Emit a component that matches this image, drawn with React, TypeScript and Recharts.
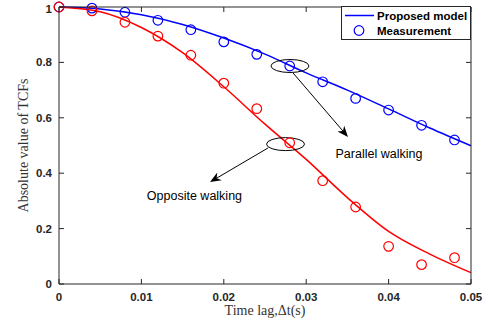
import React from 'react';
import {
  LineChart,
  Line,
  XAxis,
  YAxis,
  Legend,
  ReferenceDot,
  ReferenceLine,
} from 'recharts';

// Model curves (sampled along the time lag axis)
const modelT = [0, 0.005, 0.01, 0.015, 0.02, 0.025, 0.03, 0.035, 0.04, 0.045, 0.05];
const parallelModel = [1, 0.993, 0.972, 0.937, 0.888, 0.83, 0.762, 0.7, 0.632, 0.563, 0.499];
const oppositeModel = [1, 0.983, 0.926, 0.835, 0.712, 0.577, 0.45, 0.312, 0.19, 0.108, 0.041];

// Measured points
const measT = [0, 0.004, 0.008, 0.012, 0.016, 0.02, 0.024, 0.028, 0.032, 0.036, 0.04, 0.044, 0.048];
const parallelMeas = [1, 0.996, 0.981, 0.952, 0.918, 0.874, 0.829, 0.787, 0.73, 0.67, 0.628, 0.573, 0.52];
const oppositeMeas = [1, 0.986, 0.945, 0.895, 0.826, 0.725, 0.633, 0.51, 0.373, 0.278, 0.136, 0.07, 0.095];

const xTicks = [0, 0.01, 0.02, 0.03, 0.04, 0.05];
const yTicks = [0, 0.2, 0.4, 0.6, 0.8, 1];
const X_MAX = 0.05;
const Y_MAX = 1;
const legendItems = [
  { name: 'Proposed model', kind: 'line' },
  { name: 'Measurement', kind: 'circle' },
];

const CHART_W = 487;
const CHART_H = 324;
const MARGIN = { top: 7, right: 16, left: 9, bottom: 10 };
const PLOT_TOP = MARGIN.top;
const PLOT_RIGHT = CHART_W - MARGIN.right;
const X_TICK_MARGIN = 8.5;
const Y_TICK_MARGIN = 7;

const BLUE = '#0000ff';
const RED = '#ff0000';
const AXIS = '#262626';
const TICK_LEN = 5;
const SANS = 'Liberation Sans, Arial, sans-serif';
const SERIF = 'Liberation Serif, Times New Roman, serif';

const pairs = (ts: number[], vs: number[]) => ts.map((t, i) => ({ t, v: vs[i] }));

// x tick: label plus inward marks on bottom and top edges (and the top edge itself)
const XTick = (props: any) => {
  const { x, y, payload, index } = props;
  const cx = payload.coordinate;
  const bottom = y - X_TICK_MARGIN;
  return (
    <g>
      <text x={x} y={y} dy="0.71em" textAnchor="middle" fontFamily={SANS} fontWeight={700} fontSize={11.5} fill={AXIS}>
        {String(payload.value)}
      </text>
      <line x1={cx} y1={bottom} x2={cx} y2={bottom - TICK_LEN} stroke={AXIS} strokeWidth={1} />
      <line x1={cx} y1={PLOT_TOP} x2={cx} y2={PLOT_TOP + TICK_LEN} stroke={AXIS} strokeWidth={1} />
      {index === 0 && (
        <line x1={cx} y1={PLOT_TOP} x2={PLOT_RIGHT} y2={PLOT_TOP} stroke={AXIS} strokeWidth={1} />
      )}
    </g>
  );
};

// y tick: label plus inward marks on left and right edges (and the right edge itself)
const YTick = (props: any) => {
  const { x, y, payload, index } = props;
  const cy = payload.coordinate;
  const left = x + Y_TICK_MARGIN;
  return (
    <g>
      <text x={x} y={y} dy="0.355em" textAnchor="end" fontFamily={SANS} fontWeight={700} fontSize={11.5} fill={AXIS}>
        {String(payload.value)}
      </text>
      <line x1={left} y1={cy} x2={left + TICK_LEN} y2={cy} stroke={AXIS} strokeWidth={1} />
      <line x1={PLOT_RIGHT} y1={cy} x2={PLOT_RIGHT - TICK_LEN} y2={cy} stroke={AXIS} strokeWidth={1} />
      {index === 0 && (
        <line x1={PLOT_RIGHT} y1={cy} x2={PLOT_RIGHT} y2={PLOT_TOP} stroke={AXIS} strokeWidth={1} />
      )}
    </g>
  );
};

const Circle = (color: string) => (props: any) => {
  const { cx, cy } = props;
  if (cx == null || cy == null) return null;
  return <circle cx={cx} cy={cy} r={4.8} fill="none" stroke={color} strokeWidth={1.2} />;
};

const Ellipse = (props: any) => (
  <ellipse cx={props.cx} cy={props.cy} rx={19} ry={6.5} fill="none" stroke="#000" strokeWidth={1} />
);

const Arrow = (props: any) => {
  const { x1, y1, x2, y2 } = props;
  const ang = Math.atan2(y2 - y1, x2 - x1);
  const len = 11;
  const w = 4.5;
  const bx = x2 - len * Math.cos(ang);
  const by = y2 - len * Math.sin(ang);
  const nx = x2 - 0.7 * len * Math.cos(ang);
  const ny = y2 - 0.7 * len * Math.sin(ang);
  const px = -Math.sin(ang);
  const py = Math.cos(ang);
  const pts = [
    [x2, y2],
    [bx + w * px, by + w * py],
    [nx, ny],
    [bx - w * px, by - w * py],
  ]
    .map((p) => p.join(','))
    .join(' ');
  return (
    <g>
      <line x1={x1} y1={y1} x2={nx} y2={ny} stroke="#000" strokeWidth={1} />
      <polygon points={pts} fill="#000" />
    </g>
  );
};

const Note = (text: string) => (props: any) => (
  <text x={props.cx} y={props.cy} textAnchor="middle" dominantBaseline="central" fontFamily={SANS} fontSize={12.5} fill="#000">
    {text}
  </text>
);

const LegendBox = () => (
  <svg width={130} height={34} style={{ display: 'block' }}>
    <rect x={0.5} y={0.5} width={129} height={33} fill="#fff" stroke={AXIS} strokeWidth={1} />
    {legendItems.map((it, i) => {
      const cy = 9.5 + i * 15;
      return (
        <g key={i}>
          {it.kind === 'circle' ? (
            <circle cx={18} cy={cy} r={4.8} fill="none" stroke={BLUE} strokeWidth={1.2} />
          ) : (
            <line x1={4} y1={cy} x2={33} y2={cy} stroke={BLUE} strokeWidth={1.5} />
          )}
          <text x={36} y={cy} dominantBaseline="central" fontFamily={SANS} fontWeight={700} fontSize={11.5} fill="#000">
            {it.name}
          </text>
        </g>
      );
    })}
  </svg>
);

export default function App() {
  return (
    <div style={{ position: 'absolute', left: 0, top: 0, background: '#fff' }}>
      <LineChart width={CHART_W} height={CHART_H} margin={MARGIN}>
        <XAxis
          dataKey="t"
          type="number"
          domain={[0, X_MAX]}
          ticks={xTicks}
          tickLine={false}
          tickSize={0}
          tickMargin={X_TICK_MARGIN}
          height={30}
          stroke={AXIS}
          tick={XTick}
          label={{
            content: (p: any) => (
              <text x={p.viewBox.x + p.viewBox.width / 2} y={315} textAnchor="middle" fontFamily={SERIF} fontSize={14} fill="#333">
                Time lag,Δt(s)
              </text>
            ),
          }}
        />
        <YAxis
          type="number"
          domain={[0, Y_MAX]}
          ticks={yTicks}
          tickLine={false}
          tickSize={0}
          tickMargin={Y_TICK_MARGIN}
          width={50}
          stroke={AXIS}
          tick={YTick}
          label={{
            content: (p: any) => {
              const x = 28;
              const y = p.viewBox.y + p.viewBox.height / 2;
              return (
                <text
                  x={x}
                  y={y}
                  transform={`rotate(-90 ${x} ${y})`}
                  textAnchor="middle"
                  fontFamily={SERIF}
                  fontSize={14}
                  fill="#333"
                >
                  Absolute value of TCFs
                </text>
              );
            },
          }}
        />

        <Line
          data={pairs(modelT, parallelModel)}
          dataKey="v"
          name="Proposed model"
          type="monotone"
          stroke={BLUE}
          strokeWidth={1.5}
          dot={false}
          isAnimationActive={false}
        />
        <Line
          data={pairs(modelT, oppositeModel)}
          dataKey="v"
          type="monotone"
          stroke={RED}
          strokeWidth={1.5}
          dot={false}
          legendType="none"
          isAnimationActive={false}
        />
        <Line
          data={pairs(measT, parallelMeas)}
          dataKey="v"
          name="Measurement"
          stroke="none"
          dot={Circle(BLUE)}
          activeDot={false}
          isAnimationActive={false}
        />
        <Line
          data={pairs(measT, oppositeMeas)}
          dataKey="v"
          stroke="none"
          dot={Circle(RED)}
          activeDot={false}
          legendType="none"
          isAnimationActive={false}
        />

        <ReferenceDot x={0.02803} y={0.787} shape={Ellipse} />
        <ReferenceDot x={0.02749} y={0.505} shape={Ellipse} />
        <ReferenceLine segment={[{ x: 0.0284, y: 0.762 }, { x: 0.03507, y: 0.531 }]} shape={Arrow} />
        <ReferenceLine segment={[{ x: 0.02536, y: 0.491 }, { x: 0.01833, y: 0.368 }]} shape={Arrow} />
        <ReferenceDot x={0.03883} y={0.469} shape={Note('Parallel walking')} />
        <ReferenceDot x={0.01644} y={0.318} shape={Note('Opposite walking')} />

        <Legend
          layout="vertical"
          align="center"
          verticalAlign="middle"
          wrapperStyle={{ left: 341, top: 6, width: 130, height: 34 }}
          content={LegendBox}
        />
      </LineChart>
    </div>
  );
}
